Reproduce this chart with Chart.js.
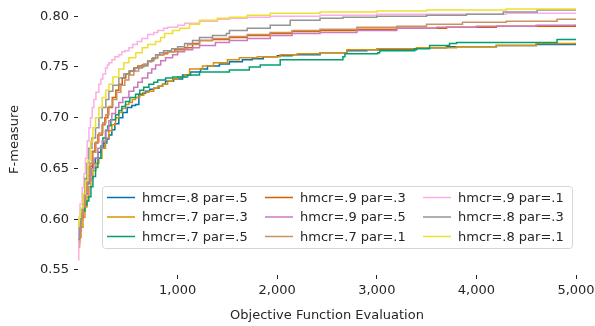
<!DOCTYPE html>
<html>
<head>
<meta charset="utf-8">
<script src="https://cdn.jsdelivr.net/npm/chart.js@4"></script>
<style>
    html, body { margin: 0; padding: 0; background: #ffffff; }
    #wrap { width: 595px; height: 326px; }
</style>
</head>
<body>
<div id="wrap"><canvas id="myChart" width="595" height="326"></canvas></div>
<script>
// data (best-so-far F-measure per evaluation)
var labels = ["hmcr=.8 par=.5", "hmcr=.7 par=.3", "hmcr=.7 par=.5",
              "hmcr=.9 par=.3", "hmcr=.9 par=.5", "hmcr=.7 par=.1",
              "hmcr=.9 par=.1", "hmcr=.8 par=.3", "hmcr=.8 par=.1"];
var colors = ['#0173b2', '#de8f05', '#029e73', '#d55e00', '#cc78bc', '#ca9161', '#fbafe4', '#949494', '#ece133'];

var x85 = [0, 15, 30, 50, 70, 90, 110, 130, 150, 175, 200, 230, 260, 290, 310, 340, 370, 410, 450, 494, 540, 578, 611, 650, 678, 720, 760, 812, 850, 879, 960, 1050, 1130, 1230, 1300, 1420, 1520, 1650, 1750, 1860, 2000, 2150, 2430, 2700, 2900, 3400, 3700, 4200, 4600, 5000];
var y85 = [0.585, 0.595, 0.605, 0.615, 0.625, 0.635, 0.643, 0.650, 0.655, 0.660, 0.666, 0.670, 0.675, 0.679, 0.683, 0.688, 0.694, 0.700, 0.705, 0.710, 0.712, 0.713, 0.723, 0.724, 0.726, 0.728, 0.729, 0.731, 0.733, 0.736, 0.738, 0.742, 0.745, 0.748, 0.751, 0.753, 0.755, 0.757, 0.758, 0.760, 0.761, 0.762, 0.764, 0.766, 0.767, 0.769, 0.770, 0.771, 0.772, 0.772];

var x73 = [0, 15, 30, 50, 70, 90, 110, 130, 150, 180, 209, 240, 276, 310, 340, 377, 410, 440, 477, 510, 545, 578, 620, 660, 712, 760, 800, 846, 900, 950, 1000, 1070, 1120, 1250, 1360, 1500, 1620, 1800, 2030, 2200, 2430, 2700, 3000, 3400, 3800, 4200, 4600, 5000];
var y73 = [0.572, 0.582, 0.592, 0.602, 0.612, 0.622, 0.632, 0.640, 0.648, 0.655, 0.660, 0.670, 0.680, 0.687, 0.693, 0.700, 0.705, 0.709, 0.713, 0.715, 0.718, 0.720, 0.722, 0.725, 0.726, 0.729, 0.731, 0.733, 0.736, 0.738, 0.740, 0.742, 0.748, 0.751, 0.754, 0.757, 0.759, 0.760, 0.762, 0.763, 0.764, 0.767, 0.768, 0.769, 0.770, 0.771, 0.773, 0.774];

var x75 = [0, 15, 30, 50, 70, 90, 109, 130, 150, 176, 200, 230, 250, 276, 300, 330, 377, 410, 440, 477, 520, 578, 620, 660, 712, 760, 800, 879, 950, 1100, 1220, 1520, 1720, 1830, 2030, 2660, 2680, 3010, 3030, 3380, 3530, 3730, 3800, 4810, 5000];
var y75 = [0.590, 0.596, 0.602, 0.608, 0.614, 0.618, 0.622, 0.632, 0.642, 0.651, 0.660, 0.672, 0.680, 0.687, 0.692, 0.698, 0.703, 0.707, 0.711, 0.716, 0.720, 0.723, 0.727, 0.730, 0.733, 0.735, 0.737, 0.739, 0.740, 0.742, 0.745, 0.747, 0.750, 0.752, 0.757, 0.760, 0.763, 0.764, 0.766, 0.768, 0.771, 0.773, 0.774, 0.777, 0.777];

var x93 = [0, 15, 30, 50, 70, 90, 110, 143, 170, 200, 243, 270, 300, 344, 380, 410, 444, 480, 520, 560, 600, 645, 700, 760, 800, 860, 900, 970, 1070, 1150, 1220, 1350, 1520, 1700, 1930, 2150, 2430, 2800, 3200, 3700, 4200, 5000];
var y93 = [0.578, 0.590, 0.602, 0.614, 0.628, 0.640, 0.652, 0.667, 0.675, 0.683, 0.693, 0.700, 0.710, 0.720, 0.727, 0.733, 0.739, 0.743, 0.746, 0.749, 0.751, 0.752, 0.756, 0.759, 0.762, 0.763, 0.765, 0.767, 0.769, 0.773, 0.776, 0.777, 0.779, 0.781, 0.783, 0.785, 0.786, 0.787, 0.788, 0.789, 0.790, 0.790];

var x95 = [0, 15, 30, 50, 70, 100, 130, 160, 200, 243, 280, 310, 340, 377, 410, 450, 511, 560, 600, 645, 700, 740, 779, 830, 879, 950, 1000, 1070, 1150, 1220, 1380, 1520, 1700, 1930, 2150, 2430, 2800, 3200, 3600, 4000, 4600, 5000];
var y95 = [0.575, 0.588, 0.600, 0.612, 0.624, 0.638, 0.650, 0.660, 0.670, 0.677, 0.688, 0.697, 0.704, 0.710, 0.715, 0.720, 0.726, 0.730, 0.735, 0.739, 0.744, 0.748, 0.752, 0.756, 0.759, 0.762, 0.765, 0.767, 0.769, 0.771, 0.774, 0.776, 0.778, 0.781, 0.783, 0.784, 0.786, 0.788, 0.789, 0.790, 0.791, 0.792];

var x71 = [0, 15, 30, 50, 70, 90, 120, 150, 180, 210, 250, 280, 310, 350, 390, 430, 470, 510, 560, 610, 660, 700, 750, 800, 860, 900, 1000, 1100, 1220, 1350, 1520, 1700, 1930, 2150, 2430, 2800, 3200, 3500, 3860, 4300, 4810, 5000];
var y71 = [0.575, 0.588, 0.600, 0.613, 0.626, 0.640, 0.655, 0.666, 0.676, 0.685, 0.695, 0.703, 0.711, 0.718, 0.725, 0.732, 0.737, 0.742, 0.746, 0.750, 0.753, 0.756, 0.759, 0.762, 0.764, 0.765, 0.768, 0.772, 0.776, 0.778, 0.780, 0.782, 0.784, 0.786, 0.787, 0.789, 0.790, 0.792, 0.794, 0.795, 0.797, 0.797];

var x91 = [0, 8, 20, 42, 60, 75, 92, 110, 125, 143, 160, 180, 209, 230, 250, 276, 295, 310, 340, 370, 410, 440, 470, 511, 550, 595, 640, 700, 760, 800, 860, 900, 1000, 1070, 1220, 1400, 1520, 1700, 1930, 2430, 3000, 3600, 4300, 5000];
var y91 = [0.560, 0.600, 0.615, 0.631, 0.645, 0.660, 0.677, 0.690, 0.700, 0.710, 0.718, 0.725, 0.733, 0.738, 0.743, 0.749, 0.752, 0.754, 0.757, 0.760, 0.762, 0.765, 0.766, 0.769, 0.772, 0.775, 0.778, 0.782, 0.784, 0.786, 0.788, 0.789, 0.791, 0.793, 0.795, 0.797, 0.798, 0.799, 0.800, 0.801, 0.802, 0.802, 0.803, 0.803];

var x83 = [0, 15, 30, 50, 70, 90, 109, 140, 176, 210, 243, 280, 310, 350, 410, 460, 511, 570, 645, 700, 740, 779, 820, 859, 940, 1000, 1070, 1150, 1220, 1350, 1490, 1520, 1700, 1930, 2130, 2430, 2660, 3000, 3500, 3900, 4270, 4610, 5000];
var y83 = [0.580, 0.595, 0.610, 0.625, 0.640, 0.655, 0.670, 0.680, 0.690, 0.700, 0.710, 0.718, 0.726, 0.732, 0.739, 0.743, 0.746, 0.749, 0.751, 0.755, 0.758, 0.762, 0.764, 0.766, 0.768, 0.770, 0.773, 0.776, 0.779, 0.781, 0.783, 0.786, 0.788, 0.791, 0.796, 0.798, 0.799, 0.800, 0.801, 0.802, 0.804, 0.806, 0.806];

var x81 = [0, 10, 25, 50, 75, 100, 126, 150, 176, 210, 243, 280, 310, 350, 410, 460, 511, 580, 645, 700, 779, 830, 870, 950, 1020, 1120, 1220, 1400, 1520, 1700, 1930, 2430, 3000, 3500, 4300, 5000];
var y81 = [0.593, 0.602, 0.611, 0.625, 0.638, 0.658, 0.677, 0.690, 0.700, 0.710, 0.720, 0.727, 0.733, 0.740, 0.748, 0.754, 0.759, 0.764, 0.769, 0.772, 0.775, 0.779, 0.783, 0.786, 0.788, 0.792, 0.796, 0.798, 0.799, 0.801, 0.803, 0.804, 0.805, 0.806, 0.807, 0.808];

var xs = [x85, x73, x75, x93, x95, x71, x91, x83, x81];
var ys = [y85, y73, y75, y93, y95, y71, y91, y83, y81];

var xTicks = [1000, 2000, 3000, 4000, 5000];
var yTicks = [0.55, 0.60, 0.65, 0.70, 0.75, 0.80];

var textColor = '#262626';
var fontFamily = "'DejaVu Sans', sans-serif";

function toPoints(xv, yv) {
    var pts = [];
    for (let i = 0; i < xv.length; i++) {
        pts.push({ x: xv[i], y: yv[i] });
    }
    return pts;
}

var datasets = [];
for (let i = 0; i < labels.length; i++) {
    datasets.push({
        label: labels[i],
        data: toPoints(xs[i], ys[i]),
        borderColor: colors[i],
        backgroundColor: colors[i],
        borderWidth: 1.5,
        pointRadius: 0,
        stepped: 'before',
        fill: false,
        order: labels.length - i   // last series on top, like matplotlib
    });
}

// legend drawn inside the plot, 3 columns
var boxLegend = {
    id: 'boxLegend',
    afterDatasetsDraw: function (chart) {
        var ctx = chart.ctx;
        ctx.save();
        ctx.fillStyle = 'rgba(255,255,255,0.8)';
        ctx.strokeStyle = '#d6d6d6';
        ctx.lineWidth = 1;
        ctx.beginPath();
        ctx.roundRect(102.5, 186.5, 470, 62, 3);
        ctx.fill();
        ctx.stroke();
        ctx.font = '13px ' + fontFamily;
        ctx.textBaseline = 'middle';
        ctx.textAlign = 'left';
        var colX = [107, 265, 423];
        var rowY = [197.5, 217, 236.5];
        for (let i = 0; i < labels.length; i++) {
            var c = Math.floor(i / 3);
            var r = i % 3;
            ctx.strokeStyle = colors[i];
            ctx.lineWidth = 1.5;
            ctx.beginPath();
            ctx.moveTo(colX[c], rowY[r]);
            ctx.lineTo(colX[c] + 28, rowY[r]);
            ctx.stroke();
            ctx.fillStyle = textColor;
            ctx.fillText(labels[i], colX[c] + 35, rowY[r] + 1);
        }
        ctx.restore();
    }
};

var ctx = document.getElementById("myChart");
var myChart = new Chart(ctx, {
    type: 'line',
    data: { datasets: datasets },
    options: {
        responsive: false,
        animation: false,
        devicePixelRatio: 1,
        layout: {
            padding: { left: 0, right: 19, top: 4, bottom: 0 }
        },
        plugins: {
            legend: { display: false },
            tooltip: { enabled: false }
        },
        scales: {
            x: {
                type: 'linear',
                min: 0,
                max: 5000,
                afterBuildTicks: function (scale) {
                    scale.ticks = xTicks.map(function (v) { return { value: v }; });
                },
                afterFit: function (scale) {
                    scale.height = 51;
                    scale.paddingLeft = 0;
                    scale.paddingRight = 0;
                },
                border: { display: false },
                grid: {
                    drawOnChartArea: false,
                    drawTicks: true,
                    tickLength: 4,
                    tickColor: textColor
                },
                ticks: {
                    color: textColor,
                    font: { family: fontFamily, size: 13 },
                    padding: 4,
                    maxRotation: 0,
                    callback: function (v) { return v.toLocaleString('en-US'); }
                },
                title: {
                    display: true,
                    text: 'Objective Function Evaluation',
                    color: textColor,
                    font: { family: fontFamily, size: 13 },
                    padding: { top: 4, bottom: 3 }
                }
            },
            y: {
                min: 0.545,
                max: 0.812,
                afterBuildTicks: function (scale) {
                    scale.ticks = yTicks.map(function (v) { return { value: v }; });
                },
                afterFit: function (scale) {
                    scale.width = 78;
                    scale.paddingTop = 0;
                    scale.paddingBottom = 0;
                },
                border: { display: false },
                grid: {
                    drawOnChartArea: false,
                    drawTicks: true,
                    tickLength: 4,
                    tickColor: textColor
                },
                ticks: {
                    color: textColor,
                    font: { family: fontFamily, size: 13 },
                    padding: 5,
                    callback: function (v) { return v.toFixed(2); }
                },
                title: {
                    display: true,
                    text: 'F-measure',
                    color: textColor,
                    font: { family: fontFamily, size: 13 },
                    padding: { top: 7, bottom: 0 }
                }
            }
        }
    },
    plugins: [boxLegend]
});
</script>
</body>
</html>
